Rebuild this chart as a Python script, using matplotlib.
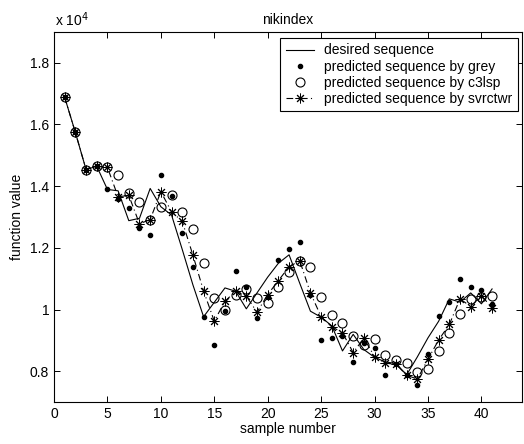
import matplotlib
matplotlib.use('Agg')
import matplotlib.pyplot as plt
from matplotlib.ticker import FuncFormatter

plt.rcParams['font.family'] = ['Liberation Sans', 'DejaVu Sans']

# values (function value per sample)
samples = list(range(1, 42))
desired = [16882, 15742, 14539, 14645, 13894, 13849, 12881, 12958, 13926, 13333,
           13065, 11950, 10800, 9765, 10232, 10700, 10591, 10022, 10538, 11050,
           11500, 11774, 10850, 9945, 9750, 9470, 8656, 9194, 8700, 8450,
           8300, 8250, 7880, 8460, 9080, 9620, 10345, 10240, 10538, 10184, 10667]
grey = [16882, 15742, 14539, 14645, 13894, 13600, 13300, 12640, 12425, 14355,
        13680, 12470, 11377, 9765, 8849, 9940, 11237, 10720, 9732, 10409,
        11613, 11968, 12184, 10462, 9000, 9087, 9140, 8301, 8925, 8753,
        7871, 8237, 7871, 7559, 8570, 9785, 10236, 10990, 10720, 10624, 10184]
c3lsp = [16882, 15742, 14539, 14645, 14610, 14355, 13780, 13494, 12915, 13330,
         13720, 13160, 12603, 11495, 10377, 9968, 10484, 10667, 10377, 10216,
         10732, 11204, 11581, 11377, 10398, 9807, 9548, 9140, 8839, 9032,
         8516, 8366, 8258, 7957, 8065, 8656, 9247, 9839, 10335, 10409, 10430]
svrctwr = [16882, 15742, 14539, 14645, 14610, 13655, 13700, 12780, 12915, 13822,
           13171, 12860, 11763, 10600, 9623, 10270, 10591, 10430, 9913, 10484,
           10936, 11388, 11581, 10538, 9765, 9442, 9247, 8602, 9070, 8473,
           8258, 8226, 7871, 7742, 8387, 9011, 9516, 10345, 10097, 10452, 10054]

fig = plt.figure(figsize=(5.24, 4.44), dpi=100)
ax = fig.add_axes([54/524, 42/444, 468/524, 370/444])

asterisk = (8, 2, 0)
ax.plot(samples, desired, '-', color='k', lw=0.8, label='desired sequence')
ax.plot(samples, grey, '.', color='k', ms=6, label='predicted sequence by grey')
ax.plot(samples, c3lsp, 'o', mfc='none', mec='k', mew=0.8, ms=6.5,
        label='predicted sequence by c3lsp')
ax.plot(samples, svrctwr, color='k', lw=0.8, dashes=(6, 3, 1, 3),
        marker=asterisk, ms=7, mew=0.7, label='predicted sequence by svrctwr')

ax.set_xlim(0, 43.8)
ax.set_ylim(7000, 19000)
ax.set_xticks(range(0, 45, 5))
ax.set_yticks(range(8000, 18001, 2000))
ax.yaxis.set_major_formatter(FuncFormatter(lambda v, p: '%g' % (v / 1e4)))
ax.tick_params(direction='in', top=True, right=True, length=4, width=0.7,
               labelsize=10, colors='k')
for s in ax.spines.values():
    s.set_linewidth(0.8)

ax.set_title('nikindex', fontsize=10, pad=6)
ax.set_xlabel('sample number', fontsize=10, labelpad=1)
ax.set_ylabel('function value', fontsize=10, labelpad=4)
fig.text(55/524, 1 - 20/444, 'x 10$^4$', fontsize=10, ha='left', va='center')

leg = ax.legend(loc='upper right', bbox_to_anchor=(0.991, 0.984), fontsize=10,
                fancybox=False, framealpha=1, edgecolor='k', borderpad=0.4,
                labelspacing=0.15, handlelength=2.0, handletextpad=0.75,
                borderaxespad=0)
leg.get_frame().set_linewidth(0.8)

fig.savefig('out.png', dpi=100)
